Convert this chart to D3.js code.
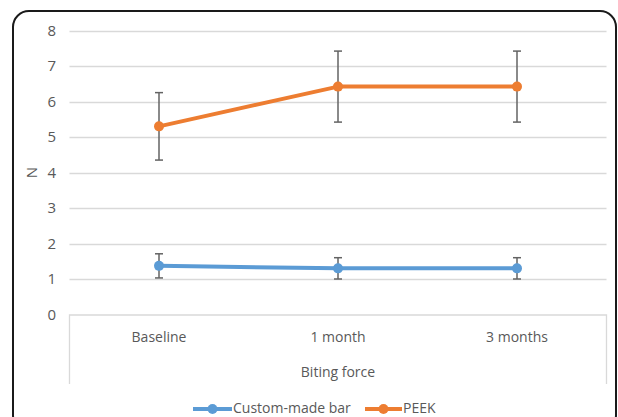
<!DOCTYPE html>
<html>
<head>
<meta charset="utf-8">
<script src="https://cdn.jsdelivr.net/npm/d3@7/dist/d3.min.js"></script>
<style>
  html, body { margin: 0; padding: 0; background: #fff; }
  svg { display: block; }
  text { font-family: "Open Sans", "Noto Sans", sans-serif; fill: #595959; }
</style>
</head>
<body>
<svg id="chart" width="618" height="417"></svg>
<script>
// Biting force (N) over follow-up, mean ± SD per group
const categories = ["Baseline", "1 month", "3 months"];
const customMean = [1.37, 1.30, 1.30];
const customErr  = [0.34, 0.30, 0.30];
const peekMean   = [5.30, 6.42, 6.42];
const peekErr    = [0.95, 1.00, 1.00];
const yTicks     = [0, 1, 2, 3, 4, 5, 6, 7, 8];
const seriesNames = ["Custom-made bar", "PEEK"];
const seriesColors = ["#5B9BD5", "#ED7D31"];

const series = [
  { name: seriesNames[0], color: seriesColors[0], mean: customMean, err: customErr },
  { name: seriesNames[1], color: seriesColors[1], mean: peekMean, err: peekErr }
];

const svg = d3.select("#chart");
const plot = { left: 69.5, right: 606.5, top: 30.5, bottom: 314.5 };

// rounded frame around the whole chart
svg.append("rect")
  .attr("x", 13).attr("y", 11)
  .attr("width", 603).attr("height", 420)
  .attr("rx", 16).attr("ry", 16)
  .attr("fill", "#fff")
  .attr("stroke", "#1a1a1a")
  .attr("stroke-width", 2);

const x = d3.scaleBand().domain(categories).range([plot.left, plot.right]).padding(0);
const y = d3.scaleLinear().domain([0, 8]).range([plot.bottom, plot.top]);

// horizontal gridlines
svg.append("g")
  .selectAll("line")
  .data(yTicks.filter(t => t > 0))
  .join("line")
  .attr("x1", plot.left).attr("x2", plot.right)
  .attr("y1", d => Math.round(y(d)) + 0.5).attr("y2", d => Math.round(y(d)) + 0.5)
  .attr("stroke", "#d9d9d9").attr("stroke-width", 1.3);

// y axis tick labels
const yAxis = d3.axisLeft(y).tickValues(yTicks).tickSize(0).tickPadding(0);
const gy = svg.append("g").attr("transform", `translate(56,0)`).call(yAxis);
gy.select(".domain").remove();
gy.selectAll("text")
  .attr("font-size", 15).attr("fill", "#595959")
  .style("font-family", "'Open Sans', sans-serif");

// y axis title
svg.append("text")
  .attr("transform", `translate(33,${y(4)}) rotate(-90)`)
  .attr("text-anchor", "middle").attr("dominant-baseline", "middle")
  .attr("font-size", 15).text("N");

// category axis box: baseline plus outer verticals
const axisBottom = 384;
svg.append("path")
  .attr("d", `M${plot.left},${axisBottom} V${plot.bottom + 0.5} H${plot.right} V${axisBottom}`)
  .attr("fill", "none").attr("stroke", "#d9d9d9").attr("stroke-width", 1.3);

const xAxis = d3.axisBottom(x).tickSize(0).tickPadding(0);
const gx = svg.append("g").attr("transform", `translate(0,${plot.bottom})`).call(xAxis);
gx.select(".domain").remove();
gx.selectAll("text")
  .attr("y", 23).attr("dy", "0.32em")
  .attr("font-size", 14).attr("fill", "#595959")
  .style("font-family", "'Open Sans', sans-serif");

svg.append("text")
  .attr("x", (plot.left + plot.right) / 2).attr("y", 373)
  .attr("text-anchor", "middle").attr("dominant-baseline", "middle")
  .attr("font-size", 14).text("Biting force");

const cx = c => x(c) + x.bandwidth() / 2;

// error bars
series.forEach(s => {
  const g = svg.append("g");
  categories.forEach((c, i) => {
    const x0 = cx(c);
    const yt = y(s.mean[i] + s.err[i]), yb = y(s.mean[i] - s.err[i]);
    g.append("line").attr("x1", x0).attr("x2", x0).attr("y1", yt).attr("y2", yb)
      .attr("stroke", "#636363").attr("stroke-width", 1.5);
    [yt, yb].forEach(yy => g.append("line")
      .attr("x1", x0 - 4).attr("x2", x0 + 4).attr("y1", yy).attr("y2", yy)
      .attr("stroke", "#636363").attr("stroke-width", 1.5));
  });
});

// series lines and markers
const line = d3.line().x((d, i) => cx(categories[i])).y(d => y(d));
series.forEach(s => {
  svg.append("path")
    .attr("d", line(s.mean))
    .attr("fill", "none").attr("stroke", s.color)
    .attr("stroke-width", 4).attr("stroke-linejoin", "round");
  svg.append("g").selectAll("circle")
    .data(s.mean)
    .join("circle")
    .attr("cx", (d, i) => cx(categories[i])).attr("cy", d => y(d))
    .attr("r", 5).attr("fill", s.color);
});

// legend
const legendY = 409;
const legendItems = [
  { x0: 193, x1: 232, tx: 233 },
  { x0: 365, x1: 402, tx: 403 }
];
series.forEach((s, i) => {
  const L = legendItems[i];
  svg.append("line").attr("x1", L.x0).attr("x2", L.x1).attr("y1", legendY).attr("y2", legendY)
    .attr("stroke", s.color).attr("stroke-width", 4);
  svg.append("circle").attr("cx", (L.x0 + L.x1) / 2).attr("cy", legendY).attr("r", 5).attr("fill", s.color);
  svg.append("text").attr("x", L.tx).attr("y", legendY).attr("dominant-baseline", "middle")
    .attr("font-size", 14).text(s.name);
});
</script>
</body>
</html>
